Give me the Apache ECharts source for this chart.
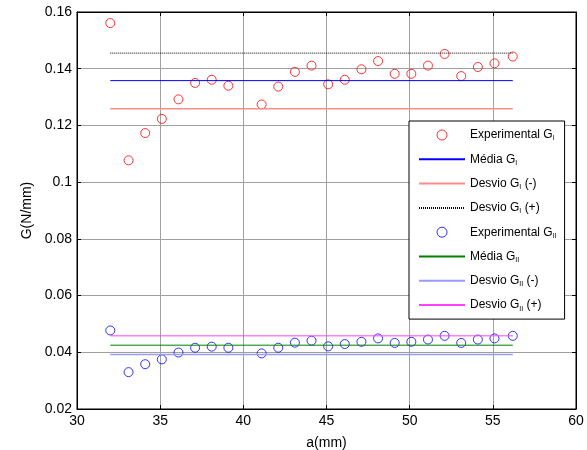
<!DOCTYPE html>
<html>
<head>
<meta charset="utf-8">
<script src="https://cdn.jsdelivr.net/npm/echarts@6/dist/echarts.min.js"></script>
<style>
 html,body{margin:0;padding:0;background:#fff;}
 #grafico{width:587px;height:450px;}
</style>
</head>
<body>
<div id="grafico"></div>
<script>
// dados
var aI = [32.0,33.1,34.1,35.1,36.1,37.1,38.1,39.1,41.1,42.1,43.1,44.1,45.1,46.1,47.1,48.1,49.1,50.1,51.1,52.1,53.1,54.1,55.1,56.2];
var expGI = [0.1561,0.1077,0.1173,0.1223,0.1292,0.1350,0.1361,0.1340,0.1274,0.1337,0.1389,0.1411,0.1345,0.1361,0.1398,0.1427,0.1382,0.1382,0.1411,0.1452,0.1374,0.1406,0.1419,0.1443];
var expGII = [0.0477,0.0330,0.0358,0.0375,0.0399,0.0416,0.0420,0.0416,0.0396,0.0416,0.0434,0.0441,0.0421,0.0429,0.0437,0.0449,0.0433,0.0437,0.0445,0.0458,0.0433,0.0445,0.0449,0.0458];

var aLinha = [32.0, 56.2];
var mediaGI = 0.1358, desvioGImenos = 0.1259, desvioGImais = 0.1455;
var mediaGII = 0.0425, desvioGIImenos = 0.0392, desvioGIImais = 0.0458;

var xTicks = [30,35,40,45,50,55,60];
var yTicks = [0.02,0.04,0.06,0.08,0.1,0.12,0.14,0.16];

function pares(xs, ys){
  var r = [];
  for(var i=0;i<xs.length;i++){ r.push([xs[i], ys[i]]); }
  return r;
}
function horiz(v){
  return [[aLinha[0], v],[aLinha[1], v]];
}

var nomes = {
  'Experimental GI':'{t|Experimental G}{s|I}',
  'Média GI':'{t|Média G}{s|I}',
  'Desvio GI (-)':'{t|Desvio G}{s|I}{t| (-)}',
  'Desvio GI (+)':'{t|Desvio G}{s|I}{t| (+)}',
  'Experimental GII':'{t|Experimental G}{s|II}',
  'Média GII':'{t|Média G}{s|II}',
  'Desvio GII (-)':'{t|Desvio G}{s|II}{t| (-)}',
  'Desvio GII (+)':'{t|Desvio G}{s|II}{t| (+)}'
};

var fonte = 'Liberation Sans, Arial, sans-serif';
var myChart = echarts.init(document.getElementById('grafico'));

function linha(nome, v, cor, tipo, larg){
  return {
    name: nome, type: 'line', data: horiz(v), color: cor,
    showSymbol: false, symbol: 'none', animation: false,
    lineStyle: {color: cor, width: larg, type: tipo},
    itemStyle: {color: cor}
  };
}
function pontos(nome, ys, cor){
  return {
    name: nome, type: 'scatter', data: pares(aI, ys),
    symbol: 'circle', symbolSize: 9, animation: false,
    itemStyle: {color: 'rgba(0,0,0,0)', borderColor: cor, borderWidth: 1}
  };
}
// legenda: linhas sem o simbolo
function itemLinha(n){ return {name: n, itemStyle: {opacity: 0}}; }
function itemPonto(n, cor){ return {name: n, icon: 'circle', itemStyle: {color: 'rgba(0,0,0,0)', borderColor: cor, borderWidth: 1}}; }

option = {
  animation: false,
  grid: {left: 77, right: 11, top: 12, bottom: 41, show: true, borderColor: '#000', borderWidth: 1,
         containLabel: false, outerBoundsMode: 'none'},
  xAxis: [{
    type: 'value', min: 30, max: 60, interval: 5,
    name: 'a(mm)', nameLocation: 'middle', nameGap: 27,
    nameTextStyle: {color: '#000', fontSize: 14, fontFamily: fonte},
    axisLine: {show: true, onZero: false, lineStyle: {color: '#000'}},
    axisTick: {inside: true, length: 4, lineStyle: {color: '#000'}},
    axisLabel: {color: '#000', fontSize: 14, fontFamily: fonte, margin: 5,
      formatter: function(v){ return xTicks.indexOf(v) >= 0 ? v : ''; }},
    splitLine: {show: true, lineStyle: {color: '#a0a0a0', width: 1}}
  },{
    type: 'value', min: 30, max: 60, interval: 5, position: 'top',
    axisLine: {show: true, lineStyle: {color: '#000'}},
    axisTick: {inside: true, length: 4, lineStyle: {color: '#000'}},
    axisLabel: {show: false}, splitLine: {show: false}
  }],
  yAxis: [{
    type: 'value', min: 0.02, max: 0.16, interval: 0.02,
    name: 'G(N/mm)', nameLocation: 'middle', nameGap: 42,
    nameTextStyle: {color: '#000', fontSize: 14, fontFamily: fonte},
    axisLine: {show: true, onZero: false, lineStyle: {color: '#000'}},
    axisTick: {inside: true, length: 4, lineStyle: {color: '#000'}},
    axisLabel: {color: '#000', fontSize: 14, fontFamily: fonte, margin: 5,
      formatter: function(v){
        for(var i=0;i<yTicks.length;i++){ if(Math.abs(yTicks[i]-v)<1e-9) return String(yTicks[i]); }
        return '';
      }},
    splitLine: {show: true, lineStyle: {color: '#a0a0a0', width: 1}}
  },{
    type: 'value', min: 0.02, max: 0.16, interval: 0.02, position: 'right',
    axisLine: {show: true, lineStyle: {color: '#000'}},
    axisTick: {inside: true, length: 4, lineStyle: {color: '#000'}},
    axisLabel: {show: false}, splitLine: {show: false}
  }],
  legend: {
    orient: 'vertical', left: 409, top: 121,
    padding: [7, 8, 7, 9],
    itemWidth: 46, itemHeight: 10, itemGap: 10.3,
    backgroundColor: '#fff', borderColor: '#000', borderWidth: 1,
    selectedMode: false,
    data: [itemPonto('Experimental GI', '#ff0000'), itemLinha('Média GI'), itemLinha('Desvio GI (-)'), itemLinha('Desvio GI (+)'),
           itemPonto('Experimental GII', '#0000ff'), itemLinha('Média GII'), itemLinha('Desvio GII (-)'), itemLinha('Desvio GII (+)')],
    formatter: function(n){ return nomes[n]; },
    textStyle: {
      color: '#000', fontFamily: fonte,
      rich: {
        t: {fontSize: 12, fontFamily: fonte, color: '#000', lineHeight: 14},
        s: {fontSize: 7, fontFamily: fonte, color: '#000', lineHeight: 14, padding: [7, 0, 0, 0]}
      }
    }
  },
  series: [
    pontos('Experimental GI', expGI, '#ff0000'),
    linha('Média GI', mediaGI, '#0000ff', 'solid', 1),
    linha('Desvio GI (-)', desvioGImenos, '#ff8c8c', 'solid', 1.5),
    linha('Desvio GI (+)', desvioGImais, '#000000', [1, 1], 1),
    pontos('Experimental GII', expGII, '#0000ff'),
    linha('Média GII', mediaGII, '#008000', 'solid', 1),
    linha('Desvio GII (-)', desvioGIImenos, '#9a9aff', 'solid', 1.5),
    linha('Desvio GII (+)', desvioGIImais, '#ff40ff', 'solid', 1)
  ]
};

if (option && typeof option === "object") {
  myChart.setOption(option, true);
}
</script>
</body>
</html>
